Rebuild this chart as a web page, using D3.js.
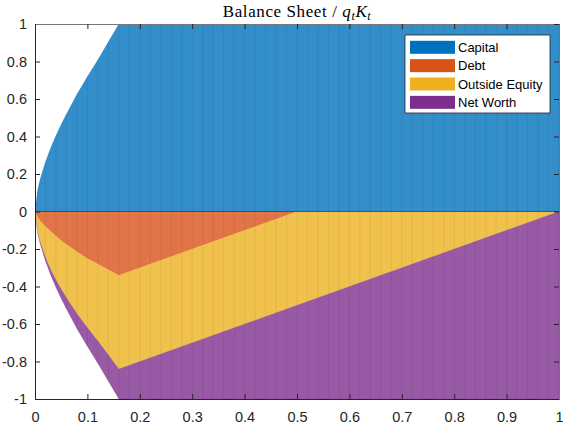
<!DOCTYPE html>
<html><head><meta charset="utf-8">
<script src="https://cdn.jsdelivr.net/npm/d3@7"></script>
<style>body{margin:0;background:#fff}svg{display:block}</style>
</head><body>
<svg id="c" width="563" height="424"></svg>
<script>
// ---- data ----
const eta           = [0, 0.005, 0.01, 0.02, 0.03, 0.04, 0.05, 0.06, 0.08, 0.10, 0.12, 0.14, 0.16, 0.5, 1.0];
const capital       = [0, 0.115, 0.175, 0.265, 0.34, 0.405, 0.465, 0.52, 0.625, 0.72, 0.81, 0.905, 1.0, 1.0, 1.0];
const debt          = [0, 0.03, 0.05, 0.08, 0.105, 0.13, 0.155, 0.175, 0.215, 0.25, 0.28, 0.31, 0.34, 0.0, 0.0];
const outsideEquity = [0, 0.08, 0.115, 0.165, 0.205, 0.235, 0.26, 0.285, 0.33, 0.37, 0.41, 0.455, 0.50, 0.50, 0.0];
const netWorth      = [0, 0.005, 0.01, 0.02, 0.03, 0.04, 0.05, 0.06, 0.08, 0.10, 0.12, 0.14, 0.16, 0.5, 1.0];
const seriesNames   = ["Capital", "Debt", "Outside Equity", "Net Worth"];
const xTicks        = [0, 0.1, 0.2, 0.3, 0.4, 0.5, 0.6, 0.7, 0.8, 0.9, 1];
const yTicks        = [-1, -0.8, -0.6, -0.4, -0.2, 0, 0.2, 0.4, 0.6, 0.8, 1];

const solidColors = ["#0072BD", "#D95319", "#EDB120", "#7E2F8E"];
const fillAlpha = 0.8;

const svg = d3.select("#c");
const L = 35, R = 559, T = 24, B = 399;
const x = d3.scaleLinear().domain([0, 1]).range([L, R]);
const y = d3.scaleLinear().domain([-1, 1]).range([B, T]);

const rows = eta.map((e, i) => ({
  eta: e,
  "Capital": capital[i],
  "Debt": -debt[i],
  "Outside Equity": -outsideEquity[i],
  "Net Worth": -netWorth[i]
}));
const stacked = d3.stack().keys(seriesNames).offset(d3.stackOffsetDiverging)(rows);

const defs = svg.append("defs");
defs.append("clipPath").attr("id", "plotClip")
  .append("rect").attr("x", L).attr("y", T).attr("width", R - L).attr("height", B - T);

const area = d3.area()
  .x(d => x(d.data.eta))
  .y0(d => y(d[0]))
  .y1(d => y(d[1]));

const barsClip = defs.append("clipPath").attr("id", "barsClip");
stacked.forEach(s => barsClip.append("path").attr("d", area(s)));

const plot = svg.append("g").attr("clip-path", "url(#plotClip)");
plot.selectAll("path.layer").data(stacked).join("path")
  .attr("class", "layer")
  .attr("d", area)
  .attr("fill", (d, i) => solidColors[i])
  .attr("fill-opacity", fillAlpha)
  .attr("stroke", (d, i) => solidColors[i])
  .attr("stroke-opacity", 0.3)
  .attr("stroke-width", 0.5);

// faint bar-edge stripes
const stripes = d3.range(0, 1.0001, 0.02);
plot.append("g").attr("clip-path", "url(#barsClip)")
  .selectAll("line").data(stripes).join("line")
  .attr("x1", d => x(d)).attr("x2", d => x(d))
  .attr("y1", T).attr("y2", B)
  .attr("stroke", "#000").attr("stroke-opacity", 0.06).attr("stroke-width", 1);

// baseline at zero
svg.append("line")
  .attr("x1", L).attr("x2", R).attr("y1", y(0)).attr("y2", y(0))
  .attr("stroke", "#262626").attr("stroke-opacity", 0.65).attr("stroke-width", 1);

// axes
const tickFont = "Liberation Sans, Arial, Helvetica, sans-serif";
const fmt = d => String(d);
const axB = svg.append("g").attr("transform", `translate(0,${B})`)
  .call(d3.axisBottom(x).tickValues(xTicks).tickFormat(fmt).tickSize(-5).tickPadding(12.5));
const axL = svg.append("g").attr("transform", `translate(${L},0)`)
  .call(d3.axisLeft(y).tickValues(yTicks).tickFormat(fmt).tickSize(-5).tickPadding(8));
const axT = svg.append("g").attr("transform", `translate(0,${T})`)
  .call(d3.axisTop(x).tickValues(xTicks).tickFormat("").tickSize(-5));
const axR = svg.append("g").attr("transform", `translate(${R},0)`)
  .call(d3.axisRight(y).tickValues(yTicks).tickFormat("").tickSize(-5));
[axB, axL, axT, axR].forEach(a => {
  a.selectAll("path.domain").attr("stroke", "#262626").attr("stroke-width", 1);
  a.selectAll(".tick line").attr("stroke", "#262626").attr("stroke-width", 1);
  a.selectAll(".tick text").attr("fill", "#262626")
    .style("font-family", tickFont).style("font-size", "14.5px");
});
axT.selectAll("path.domain").attr("stroke", "#777");
axR.selectAll("path.domain").attr("stroke", "#777");

// title
const title = svg.append("text")
  .attr("x", (L + R) / 2).attr("y", 17)
  .attr("text-anchor", "middle")
  .style("font-family", "Liberation Serif, Times New Roman, serif")
  .style("font-size", "17px").style("letter-spacing", "0.6px").attr("fill", "#000");
title.append("tspan").text("Balance Sheet / ");
title.append("tspan").style("font-style", "italic").text("q");
title.append("tspan").style("font-style", "italic").style("font-size", "12px").attr("dy", 3).text("t");
title.append("tspan").style("font-style", "italic").attr("dy", -3).text("K");
title.append("tspan").style("font-style", "italic").style("font-size", "12px").attr("dy", 3).text("t");

// legend
const lg = svg.append("g");
lg.append("rect").attr("x", 405).attr("y", 35).attr("width", 145).attr("height", 78)
  .attr("fill", "#fff").attr("stroke", "#262626").attr("stroke-width", 0.8);
const items = lg.selectAll("g.item").data(seriesNames).join("g")
  .attr("class", "item")
  .attr("transform", (d, i) => `translate(0,${47.3 + i * 18.35})`);
items.append("rect").attr("x", 410).attr("y", -6.5).attr("width", 45).attr("height", 13)
  .attr("fill", (d, i) => solidColors[i]);
items.append("text").attr("x", 458).attr("y", 0).attr("dy", "0.36em")
  .style("font-family", tickFont).style("font-size", "13px").attr("fill", "#000")
  .text(d => d);
</script>
</body></html>
